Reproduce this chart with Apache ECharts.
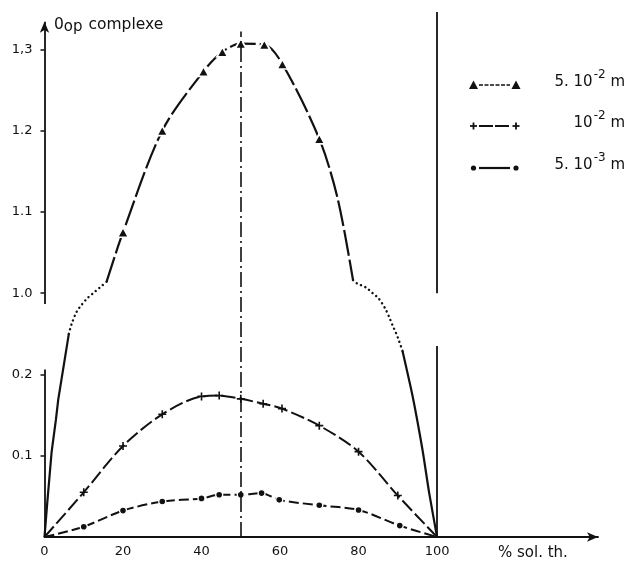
<!DOCTYPE html>
<html>
<head>
<meta charset="utf-8">
<script src="https://cdn.jsdelivr.net/npm/echarts@6/dist/echarts.min.js"></script>
<style>
  html, body { margin: 0; padding: 0; background: #fff; }
  #chart { width: 637px; height: 561px; }
</style>
</head>
<body>
<div id="chart"></div>
<script>
// x: % of theoretical solution, y: optical density of the complex
const xTicks = [0, 20, 40, 60, 80, 100];
const yTicks = [0.1, 0.2, 1.0, 1.1, 1.2, 1.3];
const yTickLabels = ['0.1', '0.2', '1.0', '1.1', '1.2', '1,3'];
const xTitle = '% sol. th.';
const yTitle = ['0', 'op', ' complexe'];
// legend labels: mantissa, exponent, unit
const legendLabels = [['5. 10', '-2', ' m'], ['10', '-2', ' m'], ['5. 10', '-3', ' m']];
const seriesNames = ['5.10-2 m', '10-2 m', '5.10-3 m'];

// 5.10^-2 m : measured points on the upper branch
const triMeasured = [[20, 1.075], [30, 1.200], [40.5, 1.273], [45.3, 1.297], [50, 1.307],
                     [56, 1.306], [60.6, 1.282], [70, 1.190]];
// 5.10^-2 m : traced curve pieces without measured markers
const triArchPath = [[15.8, 1.014], [74.7, 1.116], [78.6, 1.016]];
const triLeftFoot = [[0, 0], [0.7, 0.042], [1.8, 0.104], [2.9, 0.144], [3.5, 0.169], [6.2, 0.25]];
const triLeftBridge = [[6.2, 0.25], [6.9, 0.43], [8.2, 0.658], [9.5, 0.79], [10.9, 0.905],
                       [12.4, 1.0], [14.1, 1.007], [15.8, 1.014]];
const triRightBridge = [[78.6, 1.016], [79.6, 1.012], [81.9, 1.007], [83.6, 1.0], [85.1, 0.905],
                        [86.8, 0.715], [87.8, 0.558], [88.7, 0.40], [89.5, 0.273], [90.2, 0.243],
                        [91.2, 0.229]];
const triRightFoot = [[91.2, 0.229], [93.7, 0.175], [96.3, 0.107], [98.0, 0.054], [100, 0]];

// 10^-2 m
const crossPoints = [[0, 0], [10, 0.055], [20, 0.112], [30, 0.151], [40, 0.173], [44.5, 0.174],
                     [50, 0.170], [55.7, 0.164], [60.5, 0.158], [70, 0.137], [80, 0.105],
                     [90, 0.051], [100, 0]];
// 5.10^-3 m
const dotPoints = [[0, 0], [10, 0.0127], [20, 0.0325], [30, 0.0436], [40, 0.0475], [44.5, 0.052],
                   [50, 0.052], [55.3, 0.054], [59.8, 0.0457], [70, 0.039], [80, 0.0333],
                   [90.5, 0.014], [100, 0]];

const INK = '#111';
const FONT = 'DejaVu Sans';
const crossPath = 'path://M-1,-5H1V-1H5V1H1V5H-1V1H-5V-1H-1Z';

function unmarked(points) {
  return points.map(p => ({ value: p, symbol: 'none' }));
}
function endsUnmarked(points) {
  return points.map((p, i) => (i === 0 || i === points.length - 1) ? { value: p, symbol: 'none' } : p);
}
function lineSeries(name, data, extra) {
  return Object.assign({
    type: 'line', name: name, data: data,
    symbol: 'none', showSymbol: true, showAllSymbol: true,
    itemStyle: { color: INK },
    lineStyle: { color: INK, width: 2 },
    emphasis: { disabled: true },
    silent: true, animation: false, z: 3
  }, extra || {});
}

const archData = unmarked(triArchPath).concat(triMeasured.map(p => ({ value: p })))
  .sort((a, b) => a.value[0] - b.value[0]);

const dotted = { color: INK, width: 2.4, type: [0.1, 4.6], cap: 'round' };

// frame: split y axis, the 100 % wall and the equimolar dash-dot line
const frameLines = [
  [{ coord: [0, 0] }, { coord: [0, 0.206] }],
  [{ coord: [0, 0.80] }, { coord: [0, 1.334], symbol: 'arrow', symbolSize: [7, 11] }],
  [{ coord: [100, 0] }, { coord: [100, 0.235] }],
  [{ coord: [100, 1.0] }, { coord: [100, 1.346] }],
  [{ coord: [50, 0], lineStyle: { type: [15, 4, 2, 4], width: 1.6 } }, { coord: [50, 1.322] }]
];

function legendGraphics() {
  const rows = [85, 126, 168];
  const els = [];
  rows.forEach((y, i) => {
    const dash = i === 0 ? [4, 1.5] : (i === 1 ? [14, 2] : null);
    els.push({ type: 'line', shape: { x1: 479, y1: y, x2: 510, y2: y },
      style: { stroke: INK, lineWidth: i === 0 ? 1.6 : 2.2, lineDash: dash } });
    [473.5, 516].forEach(cx => {
      if (i === 0) {
        els.push({ type: 'polygon', shape: { points: [[cx - 4.5, y + 4], [cx, y - 4.5], [cx + 4.5, y + 4]] },
          style: { fill: INK } });
      } else if (i === 1) {
        els.push({ type: 'rect', shape: { x: cx - 3.5, y: y - 0.9, width: 7, height: 1.8 }, style: { fill: INK } });
        els.push({ type: 'rect', shape: { x: cx - 0.9, y: y - 3.5, width: 1.8, height: 7 }, style: { fill: INK } });
      } else {
        els.push({ type: 'circle', shape: { cx: cx, cy: y, r: 2.6 }, style: { fill: INK } });
      }
    });
    const lab = legendLabels[i];
    els.push({ type: 'text', x: 625, y: y - 16,
      style: {
        text: '{a|' + lab[0] + '}{s|' + lab[1] + '}{a|' + lab[2] + '}',
        align: 'right', verticalAlign: 'top', fill: INK,
        rich: {
          a: { fontSize: 15, fontFamily: FONT, fill: INK },
          s: { fontSize: 12, fontFamily: FONT, fill: INK, padding: [0, 0, 15, 1] }
        }
      } });
  });
  return els;
}

const chart = echarts.init(document.getElementById('chart'), null, { renderer: 'canvas' });
chart.setOption({
  backgroundColor: '#fff',
  animation: false,
  grid: { left: 44.5, right: 39, top: 12, bottom: 24, containLabel: false },
  xAxis: {
    type: 'value', min: 0, max: 141, interval: 20,
    axisLine: { show: true, symbol: ['none', 'arrow'], symbolSize: [7, 11],
      lineStyle: { color: INK, width: 1.8 } },
    axisTick: { show: false },
    splitLine: { show: false },
    axisLabel: { customValues: xTicks, color: INK, fontFamily: FONT, fontSize: 13, margin: 8 }
  },
  yAxis: {
    type: 'value', min: 0, max: 1.346, interval: 0.1,
    breaks: [{ start: 0.25, end: 1.0, gap: 0.05 }],
    breakArea: { show: false, expandOnClick: false, itemStyle: { opacity: 0 } },
    axisLine: { show: false },
    splitLine: { show: false },
    axisTick: { show: true, customValues: yTicks, length: 4, lineStyle: { color: INK, width: 1.5 } },
    axisLabel: {
      customValues: yTicks, color: INK, fontFamily: FONT, fontSize: 13, margin: 12,
      formatter: v => { const i = yTicks.findIndex(t => Math.abs(t - v) < 1e-6); return i < 0 ? '' : yTickLabels[i]; }
    }
  },
  graphic: [
    { type: 'text', x: 54, y: 15,
      style: {
        text: '{a|' + yTitle[0] + '}{b|' + yTitle[1] + '}{a|' + yTitle[2] + '}',
        verticalAlign: 'top', fill: INK,
        rich: {
          a: { fontSize: 15.5, fontFamily: FONT, fill: INK },
          b: { fontSize: 15, fontFamily: FONT, fill: INK, padding: [5, 1, 0, 0] }
        }
      } },
    { type: 'text', x: 498, y: 553,
      style: { text: xTitle, fontSize: 15, fontFamily: FONT, fill: INK, verticalAlign: 'middle' } }
  ].concat(legendGraphics()),
  series: [
    lineSeries(seriesNames[0], triLeftFoot, { lineStyle: { color: INK, width: 2.2 } }),
    lineSeries(seriesNames[0], triLeftBridge, { smooth: 0.3, lineStyle: dotted }),
    lineSeries(seriesNames[0], archData, {
      symbol: 'triangle', symbolSize: [11, 10], smooth: 0.3,
      itemStyle: { color: INK, borderColor: '#fff', borderWidth: 1.8 },
      lineStyle: { color: INK, width: 2.2, type: [26, 4] }
    }),
    lineSeries(seriesNames[0], triRightBridge, { smooth: 0.3, lineStyle: dotted }),
    lineSeries(seriesNames[0], triRightFoot, { smooth: 0.2, lineStyle: { color: INK, width: 2.2 } }),
    lineSeries(seriesNames[1], endsUnmarked(crossPoints), {
      symbol: crossPath, symbolSize: 8, smooth: 0.3,
      lineStyle: { color: INK, width: 2, type: [14, 4] },
      markLine: {
        silent: true, animation: false, symbol: ['none', 'none'],
        label: { show: false }, emphasis: { disabled: true },
        lineStyle: { color: INK, width: 1.8, type: 'solid' },
        data: frameLines
      }
    }),
    lineSeries(seriesNames[2], endsUnmarked(dotPoints), {
      symbol: 'circle', symbolSize: 7, smooth: 0.3,
      itemStyle: { color: INK, borderColor: '#fff', borderWidth: 1.4 },
      lineStyle: { color: INK, width: 2, type: [10, 4] }
    })
  ]
});
</script>
</body>
</html>
